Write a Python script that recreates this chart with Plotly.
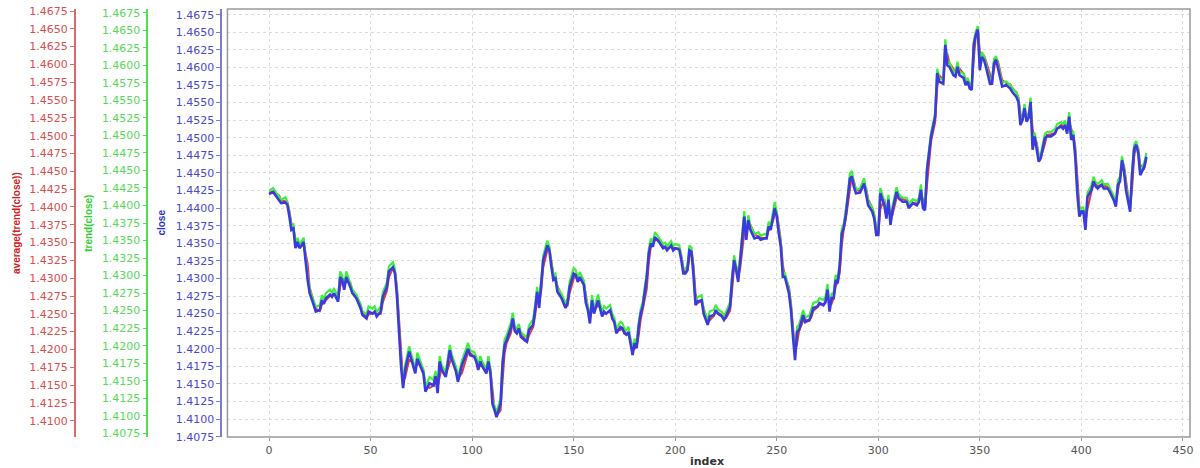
import plotly.graph_objects as go

index = [0, 2, 5, 6, 8, 9, 10, 11, 12, 13, 14, 15, 16, 17, 19, 20, 22, 23, 25, 26,
         27, 28, 30, 31, 32, 33, 34, 35, 36, 37, 38, 40, 41, 43, 45, 46, 48, 49, 51, 52,
         53, 55, 56, 58, 59, 61, 62, 63, 64, 65, 66, 67, 69, 72, 73, 74, 76, 77, 79, 81,
         82, 83, 84, 85, 87, 89, 90, 92, 93, 95, 97, 98, 99, 101, 102, 103, 104, 105, 107, 108,
         109, 110, 111, 112, 114, 115, 116, 117, 119, 120, 121, 122, 123, 124, 126, 127, 128, 130, 131, 132,
         133, 134, 135, 137, 138, 139, 140, 141, 142, 144, 146, 147, 148, 150, 151, 152, 153, 155, 156, 157,
         158, 159, 160, 162, 163, 164, 165, 166, 168, 169, 170, 171, 173, 174, 175, 176, 177, 179, 180, 181,
         182, 183, 184, 186, 187, 188, 189, 190, 192, 193, 194, 195, 196, 198, 199, 200, 202, 203, 204, 205,
         206, 207, 208, 209, 210, 211, 213, 214, 215, 216, 217, 219, 220, 221, 223, 224, 225, 227, 228, 229,
         230, 231, 232, 234, 235, 236, 237, 239, 241, 242, 244, 245, 246, 247, 249, 250, 251, 252, 253, 254,
         256, 257, 258, 259, 260, 261, 263, 264, 266, 267, 268, 270, 271, 273, 274, 275, 276, 277, 278, 279,
         280, 281, 282, 283, 284, 285, 286, 287, 288, 289, 291, 293, 294, 295, 297, 298, 299, 300, 301, 303,
         304, 305, 306, 307, 309, 310, 312, 314, 315, 316, 317, 319, 320, 321, 322, 323, 324, 325, 326, 328,
         329, 330, 332, 333, 334, 335, 337, 338, 339, 340, 342, 343, 344, 345, 346, 347, 348, 349, 350, 351,
         352, 353, 355, 356, 357, 358, 359, 360, 361, 363, 365, 366, 368, 369, 370, 371, 372, 373, 374, 375,
         376, 377, 378, 379, 380, 382, 383, 385, 387, 388, 390, 391, 392, 393, 394, 395, 396, 397, 398, 399,
         400, 401, 402, 403, 405, 406, 407, 408, 409, 410, 411, 413, 414, 415, 416, 417, 418, 419, 420, 421,
         422, 423, 424, 425, 426, 427, 428, 429, 431, 432]

close = [1.4420, 1.4423, 1.4411, 1.4407, 1.4408, 1.4405, 1.4388, 1.4369, 1.4371, 1.4343, 1.4352, 1.4343, 1.4347, 1.4352, 1.4298, 1.4279, 1.4262, 1.4253, 1.4255, 1.4269,
         1.4264, 1.4272, 1.4277, 1.4274, 1.4279, 1.4274, 1.4267, 1.4302, 1.4298, 1.4284, 1.4302, 1.4288, 1.4279, 1.4272, 1.4258, 1.4248, 1.4243, 1.4253, 1.4250, 1.4253,
         1.4246, 1.4253, 1.4274, 1.4288, 1.4310, 1.4316, 1.4307, 1.4274, 1.4222, 1.4175, 1.4144, 1.4170, 1.4196, 1.4165, 1.4186, 1.4179, 1.4165, 1.4139, 1.4151, 1.4148,
         1.4161, 1.4137, 1.4182, 1.4170, 1.4160, 1.4198, 1.4185, 1.4168, 1.4153, 1.4177, 1.4191, 1.4200, 1.4191, 1.4189, 1.4182, 1.4170, 1.4182, 1.4175, 1.4165, 1.4182,
         1.4165, 1.4122, 1.4113, 1.4103, 1.4122, 1.4179, 1.4205, 1.4212, 1.4229, 1.4243, 1.4225, 1.4222, 1.4229, 1.4217, 1.4212, 1.4210, 1.4227, 1.4234, 1.4255, 1.4281,
         1.4258, 1.4298, 1.4326, 1.4347, 1.4340, 1.4317, 1.4298, 1.4300, 1.4281, 1.4272, 1.4258, 1.4265, 1.4288, 1.4307, 1.4305, 1.4295, 1.4302, 1.4291, 1.4265, 1.4255,
         1.4236, 1.4269, 1.4250, 1.4269, 1.4258, 1.4246, 1.4253, 1.4250, 1.4255, 1.4243, 1.4238, 1.4222, 1.4231, 1.4229, 1.4222, 1.4220, 1.4224, 1.4191, 1.4208, 1.4201,
         1.4231, 1.4250, 1.4260, 1.4302, 1.4336, 1.4350, 1.4345, 1.4359, 1.4352, 1.4347, 1.4343, 1.4345, 1.4340, 1.4347, 1.4340, 1.4343, 1.4341, 1.4326, 1.4307, 1.4307,
         1.4312, 1.4340, 1.4338, 1.4305, 1.4262, 1.4267, 1.4269, 1.4250, 1.4243, 1.4234, 1.4246, 1.4248, 1.4255, 1.4250, 1.4246, 1.4241, 1.4246, 1.4260, 1.4298, 1.4326,
         1.4312, 1.4295, 1.4326, 1.4388, 1.4355, 1.4383, 1.4369, 1.4357, 1.4359, 1.4355, 1.4357, 1.4357, 1.4374, 1.4369, 1.4400, 1.4388, 1.4364, 1.4345, 1.4302, 1.4302,
         1.4279, 1.4255, 1.4217, 1.4184, 1.4224, 1.4227, 1.4248, 1.4238, 1.4241, 1.4248, 1.4258, 1.4260, 1.4265, 1.4262, 1.4267, 1.4284, 1.4253, 1.4272, 1.4272, 1.4298,
         1.4293, 1.4317, 1.4364, 1.4372, 1.4390, 1.4412, 1.4442, 1.4445, 1.4430, 1.4421, 1.4422, 1.4435, 1.4421, 1.4404, 1.4395, 1.4385, 1.4362, 1.4362, 1.4421, 1.4404,
         1.4385, 1.4412, 1.4376, 1.4397, 1.4423, 1.4414, 1.4409, 1.4409, 1.4400, 1.4404, 1.4407, 1.4404, 1.4409, 1.4426, 1.4400, 1.4397, 1.4454, 1.4478, 1.4502, 1.4530,
         1.4592, 1.4580, 1.4577, 1.4632, 1.4603, 1.4601, 1.4589, 1.4587, 1.4601, 1.4589, 1.4585, 1.4575, 1.4580, 1.4570, 1.4568, 1.4632, 1.4646, 1.4654, 1.4596, 1.4615,
         1.4611, 1.4601, 1.4577, 1.4577, 1.4606, 1.4611, 1.4599, 1.4585, 1.4573, 1.4575, 1.4570, 1.4565, 1.4558, 1.4551, 1.4518, 1.4525, 1.4542, 1.4523, 1.4528, 1.4551,
         1.4483, 1.4502, 1.4483, 1.4466, 1.4471, 1.4499, 1.4502, 1.4502, 1.4506, 1.4513, 1.4516, 1.4513, 1.4518, 1.4506, 1.4530, 1.4497, 1.4504, 1.4473, 1.4421, 1.4388,
         1.4395, 1.4395, 1.4369, 1.4416, 1.4426, 1.4438, 1.4431, 1.4428, 1.4431, 1.4433, 1.4428, 1.4428, 1.4423, 1.4418, 1.4411, 1.4402, 1.4433, 1.4438, 1.4468, 1.4452,
         1.4425, 1.4410, 1.4395, 1.4449, 1.4485, 1.4490, 1.4478, 1.4447, 1.4459, 1.4473]

trend_close = [1.4421, 1.4425, 1.4412, 1.4408, 1.4412, 1.4406, 1.4389, 1.4371, 1.4373, 1.4344, 1.4354, 1.4344, 1.4349, 1.4354, 1.4299, 1.4280, 1.4264, 1.4255, 1.4258, 1.4272,
               1.4266, 1.4275, 1.4280, 1.4276, 1.4281, 1.4276, 1.4268, 1.4306, 1.4300, 1.4285, 1.4306, 1.4290, 1.4280, 1.4273, 1.4259, 1.4249, 1.4245, 1.4256, 1.4253, 1.4256,
               1.4248, 1.4256, 1.4276, 1.4290, 1.4313, 1.4319, 1.4309, 1.4275, 1.4223, 1.4176, 1.4146, 1.4172, 1.4199, 1.4167, 1.4190, 1.4181, 1.4166, 1.4141, 1.4155, 1.4151,
               1.4164, 1.4139, 1.4185, 1.4172, 1.4162, 1.4201, 1.4187, 1.4170, 1.4155, 1.4179, 1.4194, 1.4204, 1.4193, 1.4191, 1.4184, 1.4172, 1.4185, 1.4177, 1.4167, 1.4185,
               1.4166, 1.4123, 1.4114, 1.4105, 1.4124, 1.4181, 1.4209, 1.4215, 1.4232, 1.4247, 1.4227, 1.4224, 1.4231, 1.4219, 1.4214, 1.4212, 1.4229, 1.4237, 1.4258, 1.4284,
               1.4260, 1.4300, 1.4328, 1.4350, 1.4342, 1.4319, 1.4301, 1.4303, 1.4283, 1.4274, 1.4260, 1.4268, 1.4291, 1.4311, 1.4308, 1.4297, 1.4305, 1.4293, 1.4267, 1.4257,
               1.4238, 1.4272, 1.4252, 1.4273, 1.4261, 1.4248, 1.4256, 1.4253, 1.4258, 1.4245, 1.4240, 1.4224, 1.4234, 1.4232, 1.4224, 1.4222, 1.4227, 1.4193, 1.4210, 1.4203,
               1.4233, 1.4252, 1.4262, 1.4304, 1.4338, 1.4353, 1.4347, 1.4362, 1.4354, 1.4349, 1.4345, 1.4347, 1.4342, 1.4349, 1.4342, 1.4345, 1.4343, 1.4328, 1.4309, 1.4309,
               1.4314, 1.4343, 1.4340, 1.4307, 1.4264, 1.4269, 1.4272, 1.4252, 1.4245, 1.4236, 1.4249, 1.4251, 1.4258, 1.4252, 1.4248, 1.4243, 1.4248, 1.4262, 1.4300, 1.4329,
               1.4314, 1.4297, 1.4328, 1.4392, 1.4357, 1.4386, 1.4371, 1.4359, 1.4362, 1.4357, 1.4359, 1.4359, 1.4377, 1.4371, 1.4405, 1.4390, 1.4366, 1.4347, 1.4304, 1.4304,
               1.4281, 1.4257, 1.4219, 1.4186, 1.4227, 1.4230, 1.4251, 1.4240, 1.4243, 1.4251, 1.4261, 1.4263, 1.4268, 1.4265, 1.4270, 1.4288, 1.4255, 1.4274, 1.4275, 1.4301,
               1.4295, 1.4319, 1.4366, 1.4374, 1.4392, 1.4415, 1.4446, 1.4449, 1.4432, 1.4423, 1.4424, 1.4439, 1.4423, 1.4406, 1.4397, 1.4387, 1.4364, 1.4364, 1.4425, 1.4406,
               1.4387, 1.4415, 1.4378, 1.4399, 1.4426, 1.4416, 1.4411, 1.4411, 1.4402, 1.4406, 1.4409, 1.4406, 1.4411, 1.4430, 1.4402, 1.4399, 1.4456, 1.4480, 1.4504, 1.4532,
               1.4595, 1.4582, 1.4579, 1.4637, 1.4605, 1.4604, 1.4591, 1.4590, 1.4605, 1.4591, 1.4588, 1.4577, 1.4582, 1.4572, 1.4570, 1.4634, 1.4648, 1.4656, 1.4598, 1.4619,
               1.4613, 1.4603, 1.4579, 1.4579, 1.4609, 1.4613, 1.4601, 1.4587, 1.4575, 1.4577, 1.4572, 1.4567, 1.4561, 1.4553, 1.4520, 1.4527, 1.4545, 1.4525, 1.4530, 1.4554,
               1.4485, 1.4504, 1.4485, 1.4468, 1.4473, 1.4502, 1.4505, 1.4505, 1.4509, 1.4516, 1.4519, 1.4516, 1.4521, 1.4508, 1.4533, 1.4499, 1.4506, 1.4475, 1.4423, 1.4390,
               1.4397, 1.4397, 1.4371, 1.4418, 1.4429, 1.4441, 1.4433, 1.4431, 1.4433, 1.4436, 1.4430, 1.4431, 1.4425, 1.4420, 1.4413, 1.4404, 1.4436, 1.4441, 1.4470, 1.4454,
               1.4427, 1.4412, 1.4397, 1.4451, 1.4487, 1.4492, 1.4480, 1.4449, 1.4461, 1.4475]

average_trend_close = [1.4420, 1.4422, 1.4416, 1.4409, 1.4408, 1.4406, 1.4395, 1.4377, 1.4370, 1.4354, 1.4348, 1.4347, 1.4345, 1.4350, 1.4320, 1.4287, 1.4269, 1.4257, 1.4254, 1.4263,
                       1.4266, 1.4269, 1.4275, 1.4275, 1.4277, 1.4276, 1.4270, 1.4288, 1.4300, 1.4290, 1.4295, 1.4294, 1.4283, 1.4275, 1.4264, 1.4252, 1.4245, 1.4249, 1.4251, 1.4252,
                       1.4249, 1.4250, 1.4266, 1.4282, 1.4301, 1.4314, 1.4311, 1.4287, 1.4243, 1.4194, 1.4156, 1.4160, 1.4186, 1.4177, 1.4178, 1.4182, 1.4171, 1.4149, 1.4146, 1.4149,
                       1.4156, 1.4147, 1.4164, 1.4175, 1.4164, 1.4183, 1.4190, 1.4175, 1.4159, 1.4167, 1.4185, 1.4196, 1.4195, 1.4190, 1.4185, 1.4175, 1.4177, 1.4178, 1.4169, 1.4175,
                       1.4172, 1.4139, 1.4117, 1.4107, 1.4114, 1.4156, 1.4195, 1.4209, 1.4222, 1.4237, 1.4232, 1.4223, 1.4226, 1.4222, 1.4214, 1.4211, 1.4220, 1.4231, 1.4247, 1.4271,
                       1.4267, 1.4282, 1.4315, 1.4339, 1.4343, 1.4326, 1.4306, 1.4299, 1.4289, 1.4276, 1.4264, 1.4262, 1.4279, 1.4299, 1.4306, 1.4299, 1.4299, 1.4295, 1.4275, 1.4259,
                       1.4244, 1.4256, 1.4258, 1.4261, 1.4262, 1.4251, 1.4250, 1.4251, 1.4253, 1.4248, 1.4240, 1.4228, 1.4227, 1.4230, 1.4225, 1.4221, 1.4222, 1.4204, 1.4201, 1.4204,
                       1.4219, 1.4242, 1.4256, 1.4285, 1.4322, 1.4344, 1.4347, 1.4353, 1.4355, 1.4349, 1.4345, 1.4344, 1.4342, 1.4344, 1.4343, 1.4342, 1.4342, 1.4332, 1.4315, 1.4307,
                       1.4310, 1.4329, 1.4339, 1.4318, 1.4279, 1.4265, 1.4268, 1.4258, 1.4246, 1.4238, 1.4241, 1.4247, 1.4252, 1.4252, 1.4248, 1.4243, 1.4244, 1.4254, 1.4283, 1.4315,
                       1.4318, 1.4302, 1.4314, 1.4363, 1.4368, 1.4372, 1.4375, 1.4362, 1.4358, 1.4357, 1.4356, 1.4357, 1.4367, 1.4371, 1.4388, 1.4393, 1.4374, 1.4353, 1.4319, 1.4302,
                       1.4288, 1.4265, 1.4232, 1.4197, 1.4208, 1.4226, 1.4240, 1.4242, 1.4240, 1.4245, 1.4254, 1.4259, 1.4263, 1.4263, 1.4265, 1.4277, 1.4265, 1.4264, 1.4272, 1.4288,
                       1.4295, 1.4307, 1.4345, 1.4369, 1.4383, 1.4403, 1.4430, 1.4444, 1.4436, 1.4425, 1.4422, 1.4430, 1.4427, 1.4411, 1.4399, 1.4389, 1.4371, 1.4362, 1.4397, 1.4411,
                       1.4393, 1.4401, 1.4390, 1.4389, 1.4413, 1.4418, 1.4411, 1.4409, 1.4404, 1.4402, 1.4406, 1.4405, 1.4407, 1.4419, 1.4410, 1.4398, 1.4431, 1.4468, 1.4492, 1.4519,
                       1.4567, 1.4585, 1.4578, 1.4610, 1.4615, 1.4602, 1.4594, 1.4588, 1.4595, 1.4594, 1.4587, 1.4579, 1.4578, 1.4574, 1.4569, 1.4606, 1.4640, 1.4651, 1.4619, 1.4607,
                       1.4613, 1.4605, 1.4587, 1.4577, 1.4594, 1.4609, 1.4604, 1.4591, 1.4578, 1.4574, 1.4572, 1.4567, 1.4561, 1.4554, 1.4531, 1.4522, 1.4535, 1.4531, 1.4526, 1.4542,
                       1.4510, 1.4494, 1.4491, 1.4473, 1.4469, 1.4488, 1.4501, 1.4502, 1.4504, 1.4510, 1.4515, 1.4514, 1.4516, 1.4511, 1.4520, 1.4510, 1.4501, 1.4485, 1.4442, 1.4401,
                       1.4392, 1.4395, 1.4379, 1.4397, 1.4422, 1.4433, 1.4434, 1.4429, 1.4430, 1.4432, 1.4430, 1.4428, 1.4425, 1.4420, 1.4414, 1.4406, 1.4421, 1.4436, 1.4456, 1.4458,
                       1.4436, 1.4416, 1.4401, 1.4427, 1.4471, 1.4488, 1.4483, 1.4459, 1.4454, 1.4467]

x_ticks = [0, 50, 100, 150, 200, 250, 300, 350, 400, 450]

BLUE = "#3a3ae0"
GREEN = "#3ef03e"
RED = "#e03c3c"
TICKFONT = "DejaVu Sans, Verdana, sans-serif"
TITLEFONT = "Liberation Sans, Arial, sans-serif"

fig = go.Figure()
# average(trend(close)) on the base axis (drawn first, bottom layer)
fig.add_trace(go.Scatter(x=index, y=average_trend_close, yaxis="y", mode="lines",
                         line=dict(color=RED, width=2), name="average(trend(close))"))
fig.add_trace(go.Scatter(x=index, y=trend_close, yaxis="y2", mode="lines",
                         line=dict(color=GREEN, width=2.2), name="trend(close)"))
fig.add_trace(go.Scatter(x=index, y=close, yaxis="y3", mode="lines",
                         line=dict(color=BLUE, width=2.6), name="close"))

axis_common = dict(tickformat=".4f", dtick=0.0025, ticks="outside", ticklen=4,
                   showline=True, linewidth=1.5, zeroline=False, side="left", anchor="free")

fig.update_layout(
    width=1200, height=468,
    margin=dict(l=0, r=0, t=9, b=31),
    paper_bgcolor="white", plot_bgcolor="white",
    showlegend=False,
    xaxis=dict(domain=[228 / 1200, 1193 / 1200], range=[-20.5, 453.5],
               tickmode="array", tickvals=x_ticks, ticks="outside", ticklen=3,
               tickcolor="#999999", showline=False, zeroline=False,
               showgrid=True, gridcolor="#dcdcdc", griddash="dot", gridwidth=1,
               tickfont=dict(family=TICKFONT, size=11, color="#555555")),
    # red axis (average)
    yaxis=dict(range=[1.40771, 1.46778], tick0=1.41, position=75 / 1200,
               linecolor="#d86a6a", tickcolor="#d86a6a", showgrid=False,
               tickfont=dict(family=TICKFONT, size=11, color="#d85050"), **axis_common),
    # green axis (trend)
    yaxis2=dict(range=[1.40697, 1.46803], tick0=1.4075, position=147.7 / 1200, overlaying="y",
                linecolor="#4ee04e", tickcolor="#4ee04e", showgrid=False,
                tickfont=dict(family=TICKFONT, size=11, color="#5ad85a"), **axis_common),
    # blue axis (close)
    yaxis3=dict(range=[1.40746, 1.46831], tick0=1.4075, position=221.7 / 1200, overlaying="y",
                linecolor="#7c7cd6", tickcolor="#7c7cd6",
                showgrid=True, gridcolor="#dcdcdc", griddash="dot", gridwidth=1,
                tickfont=dict(family=TICKFONT, size=11, color="#4a4ad0"), **axis_common),
    shapes=[dict(type="rect", xref="paper", yref="paper",
                 x0=228 / 1200, x1=1193 / 1200, y0=0, y1=1,
                 line=dict(color="#9a9a9a", width=1.5), layer="above")],
    annotations=[
        dict(text="average(trend(close))", xref="paper", yref="paper", x=16 / 1200, y=0.5,
             textangle=-90, showarrow=False, xanchor="center", yanchor="middle",
             font=dict(family=TITLEFONT, size=10, color="#d02020", weight="bold")),
        dict(text="trend(close)", xref="paper", yref="paper", x=88 / 1200, y=0.5,
             textangle=-90, showarrow=False, xanchor="center", yanchor="middle",
             font=dict(family=TITLEFONT, size=10, color="#30d030", weight="bold")),
        dict(text="close", xref="paper", yref="paper", x=161 / 1200, y=0.5,
             textangle=-90, showarrow=False, xanchor="center", yanchor="middle",
             font=dict(family=TITLEFONT, size=10, color="#3030c8", weight="bold")),
        dict(text="index", xref="paper", yref="paper", x=709 / 1200, y=-(462 - 437) / 428,
             showarrow=False, xanchor="center", yanchor="middle",
             font=dict(family=TICKFONT, size=11, color="#333333", weight="bold")),
    ],
)

fig.write_html("out.html")
